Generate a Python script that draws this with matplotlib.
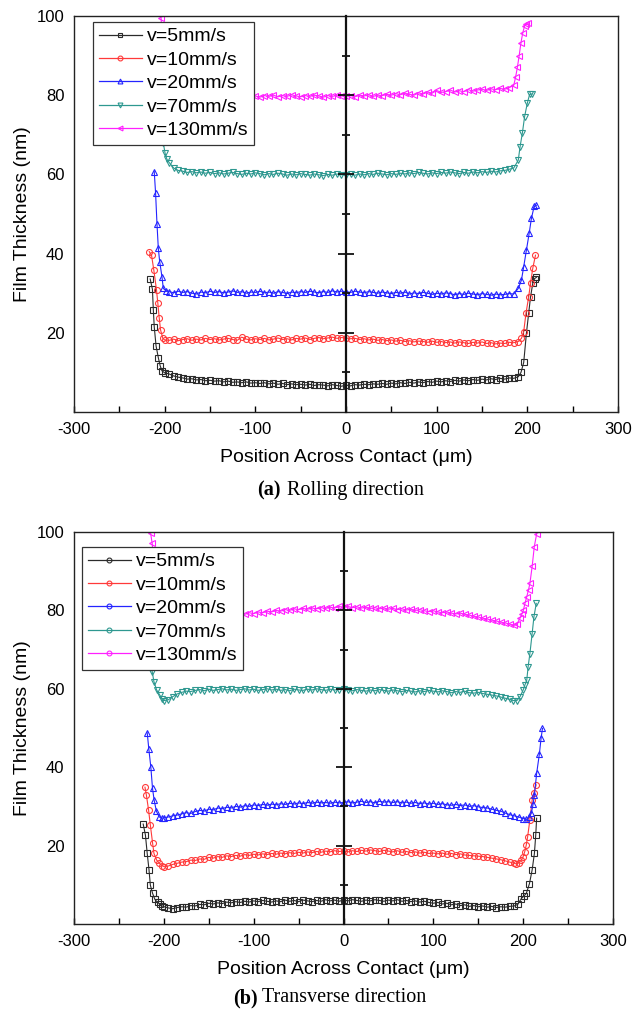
import numpy as np
import matplotlib.pyplot as plt
from matplotlib.lines import Line2D
from matplotlib.ticker import MultipleLocator, FixedLocator

plt.rcParams['font.family'] = ['Liberation Sans', 'DejaVu Sans']
plt.rcParams['axes.unicode_minus'] = False

labels = ["v=5mm/s", "v=10mm/s", "v=20mm/s", "v=70mm/s", "v=130mm/s"]
colors = ["#2b2b2b", "#ff3a3a", "#2424ff", "#2e9890", "#ff20ff"]
markers = ["s", "o", "^", "v", "<"]

# ---------------- (a) Rolling direction ----------------
grid_a = [-195, -190, -185, -180, -175, -170, -165, -160, -155, -150,
          -145, -140, -135, -130, -125, -120, -115, -110, -105, -100,
          -95, -90, -85, -80, -75, -70, -65, -60, -55, -50,
          -45, -40, -35, -30, -25, -20, -15, -10, -5, 0,
          5, 10, 15, 20, 25, 30, 35, 40, 45, 50,
          55, 60, 65, 70, 75, 80, 85, 90, 95, 100,
          105, 110, 115, 120, 125, 130, 135, 140, 145, 150,
          155, 160, 165, 170, 175, 180]

a5_lx = [-216, -213.5, -212.5, -211.5, -209.5, -207, -205, -203, -200]
a5_ly = [33.6, 31.0, 25.8, 21.5, 16.7, 13.7, 11.7, 10.4, 9.9]
a5_mid = [9.6, 9.1, 8.8, 8.6, 8.3, 8.4, 8.1, 8.2, 7.9, 8.0,
          7.8, 7.9, 7.6, 7.8, 7.5, 7.6, 7.4, 7.6, 7.3, 7.4,
          7.2, 7.4, 7.1, 7.3, 7.0, 7.2, 6.9, 7.1, 6.9, 7.0,
          6.8, 7.0, 6.7, 6.9, 6.8, 6.6, 6.9, 6.7, 6.5, 6.8,
          6.6, 6.9, 6.8, 7.0, 6.9, 7.1, 7.0, 7.2, 7.0, 7.3,
          7.1, 7.4, 7.2, 7.5, 7.3, 7.6, 7.4, 7.7, 7.5, 7.8,
          7.6, 7.9, 7.7, 8.0, 7.8, 8.1, 7.9, 8.2, 8.0, 8.3,
          8.1, 8.4, 8.2, 8.5, 8.3, 8.6]
a5_rx = [185, 190, 193, 196, 199, 201.5, 203.5, 206, 208, 210]
a5_ry = [8.5, 8.9, 10.0, 12.5, 19.9, 25.0, 29.0, 32.5, 33.7, 34.0]

a10_lx = [-217, -214.5, -212, -209, -207.5, -206, -204.5, -202, -200]
a10_ly = [40.5, 39.6, 35.9, 30.8, 27.4, 23.7, 20.7, 18.6, 18.2]
a10_mid = [18.1, 18.4, 18.0, 18.3, 18.5, 18.1, 18.4, 18.2, 18.6, 18.3,
           18.5, 18.2, 18.4, 18.6, 18.3, 18.1, 18.9, 18.4, 18.2, 18.5,
           18.3, 18.6, 18.2, 18.4, 18.7, 18.3, 18.5, 18.2, 18.6, 18.4,
           18.7, 18.3, 18.6, 18.8, 18.5, 18.7, 18.9, 18.6, 18.8, 18.7,
           18.5, 18.6, 18.3, 18.5, 18.2, 18.4, 18.1, 18.3, 18.0, 18.2,
           17.9, 18.1, 17.8, 18.0, 17.7, 17.9, 17.8, 17.6, 17.9, 17.6,
           17.8, 17.5, 17.7, 17.4, 17.7, 17.5, 17.3, 17.6, 17.4, 17.7,
           17.3, 17.5, 17.2, 17.4, 17.3, 17.6]
a10_rx = [185, 190, 193.5, 196, 198.5, 201.5, 203.5, 206, 209]
a10_ry = [17.5, 17.8, 18.6, 20.3, 24.9, 29.1, 32.5, 36.3, 39.6]

a20_lx = [-211.5, -210, -208.5, -207, -205.5, -203, -201.5, -198.5]
a20_ly = [60.7, 55.2, 47.6, 41.3, 38.0, 34.2, 31.2, 30.6]
a20_mid = [30.4, 30.1, 30.5, 30.2, 30.4, 30.0, 29.8, 30.3, 30.1, 30.5,
           30.2, 30.4, 30.1, 30.3, 30.6, 30.2, 30.4, 30.0, 30.3, 30.2,
           30.5, 30.1, 30.3, 30.0, 30.4, 30.2, 29.9, 30.3, 30.1, 30.4,
           30.2, 30.5, 30.3, 30.1, 30.4, 30.2, 30.6, 30.3, 30.5, 30.4,
           30.2, 30.5, 30.3, 30.1, 30.4, 30.2, 30.0, 30.3, 30.1, 29.9,
           30.2, 30.0, 30.3, 29.8, 30.1, 29.9, 30.2, 30.0, 29.7, 30.0,
           29.8, 30.1, 29.9, 29.6, 29.9, 29.7, 30.0, 29.8, 29.6, 29.9,
           29.7, 29.5, 29.8, 29.6, 29.7, 29.9]
a20_rx = [185, 190, 193.5, 196, 199, 202, 204.5, 207.5, 210]
a20_ry = [29.8, 31.2, 33.3, 36.7, 40.9, 45.1, 48.9, 51.9, 52.2]

a70_lx = [-205, -203, -201.5, -199.5, -197.5]
a70_ly = [78.0, 72.0, 67.9, 65.3, 63.8]
a70_mid = [63.0, 61.6, 61.0, 60.8, 60.5, 60.7, 60.4, 60.6, 60.3, 60.5,
           60.2, 60.4, 60.1, 60.3, 60.5, 60.2, 60.0, 60.3, 60.1, 60.4,
           60.2, 59.9, 60.2, 60.0, 60.3, 60.1, 59.8, 60.1, 59.9, 60.2,
           60.0, 59.8, 60.1, 59.9, 59.7, 60.0, 59.8, 60.1, 59.9, 59.8,
           60.0, 59.8, 60.1, 59.9, 60.2, 60.0, 60.3, 60.1, 59.9, 60.2,
           60.0, 60.3, 60.1, 60.4, 60.2, 60.5, 60.3, 60.1, 60.4, 60.2,
           60.5, 60.3, 60.6, 60.4, 60.2, 60.5, 60.3, 60.6, 60.4, 60.7,
           60.5, 60.8, 60.6, 60.9, 61.0, 61.3]
a70_rx = [185, 190, 192, 194.5, 197, 200, 202.5, 205]
a70_ry = [61.6, 63.6, 67.0, 70.4, 74.6, 78.0, 80.2, 80.3]

a130_lx = [-204, -203, -201.5, -200, -198]
a130_ly = [99.5, 96.0, 90.0, 85.0, 82.0]
a130_mid = [81.2, 80.6, 80.3, 80.1, 80.4, 79.9, 80.2, 80.0, 79.8, 80.1,
            79.9, 80.2, 79.7, 80.0, 79.8, 80.1, 79.9, 79.6, 80.0, 79.8,
            79.5, 79.9, 79.7, 80.0, 79.6, 79.9, 79.7, 80.1, 79.8, 79.6,
            79.9, 79.7, 80.0, 79.8, 79.5, 79.9, 79.7, 80.0, 79.8, 79.7,
            79.9, 79.6, 80.0, 79.8, 80.1, 79.7, 80.0, 79.9, 80.2, 80.0,
            80.4, 80.1, 80.5, 80.2, 80.0, 80.6, 80.3, 80.8, 80.5, 81.2,
            80.7, 80.9, 81.3, 80.8, 81.1, 80.9, 81.4, 81.0, 81.3, 81.5,
            81.2, 81.6, 81.4, 81.7, 81.5, 81.9]
a130_rx = [185, 187, 189, 191, 193, 195, 197, 199, 200.5]
a130_ry = [82.5, 84.5, 87.0, 90.0, 93.3, 95.8, 97.5, 98.1, 98.3]

# ---------------- (b) Transverse direction ----------------
grid_b = [-195, -190, -185, -180, -175, -170, -165, -160, -155, -150,
          -145, -140, -135, -130, -125, -120, -115, -110, -105, -100,
          -95, -90, -85, -80, -75, -70, -65, -60, -55, -50,
          -45, -40, -35, -30, -25, -20, -15, -10, -5, 0,
          5, 10, 15, 20, 25, 30, 35, 40, 45, 50,
          55, 60, 65, 70, 75, 80, 85, 90, 95, 100,
          105, 110, 115, 120, 125, 130, 135, 140, 145, 150,
          155, 160, 165, 170, 175, 180, 185]

b5_lx = [-223, -220.5, -218.5, -216.5, -215, -212.5, -210, -207, -204.5, -202, -199.5]
b5_ly = [25.5, 22.7, 18.0, 13.8, 9.9, 7.8, 6.3, 5.5, 5.1, 4.6, 4.4]
b5_mid = [4.1, 3.9, 4.2, 4.4, 4.3, 4.7, 4.6, 5.0, 4.9, 5.3,
          5.1, 5.4, 5.2, 5.6, 5.4, 5.7, 5.5, 5.8, 5.6, 5.9,
          5.7, 6.0, 5.8, 5.6, 5.9, 5.7, 6.1, 5.8, 6.0, 5.7,
          6.1, 5.9, 5.7, 6.0, 5.8, 6.2, 5.9, 6.1, 5.8, 6.1,
          5.9, 6.2, 6.0, 5.8, 6.1, 5.9, 6.2, 6.0, 5.8, 6.1,
          5.9, 6.2, 5.8, 6.0, 5.7, 5.9, 5.6, 5.8, 5.5, 5.3,
          5.5, 5.1, 5.3, 4.9, 5.1, 4.7, 4.9, 4.5, 4.7, 4.4,
          4.6, 4.3, 4.5, 4.2, 4.4, 4.3, 4.5]
b5_rx = [190, 194, 198, 201, 203.5, 207, 210, 212.5, 214, 215]
b5_ry = [4.6, 5.0, 6.5, 7.2, 7.8, 10.3, 13.8, 18.0, 22.7, 27.0]

b10_lx = [-221, -219.5, -217, -215, -212.5, -211, -208, -205, -202, -199.5]
b10_ly = [34.9, 33.0, 29.1, 25.2, 20.6, 18.0, 16.3, 15.5, 14.9, 14.6]
b10_mid = [14.8, 15.2, 15.5, 15.8, 15.9, 16.3, 16.2, 16.6, 16.5, 17.0,
           16.8, 17.2, 17.0, 17.4, 17.2, 17.5, 17.3, 17.7, 17.5, 17.8,
           17.6, 17.9, 17.7, 18.0, 17.8, 18.1, 17.9, 18.2, 18.0, 18.3,
           18.1, 18.4, 18.2, 18.5, 18.3, 18.6, 18.4, 18.7, 18.5, 18.6,
           18.4, 18.7, 18.5, 18.8, 18.6, 18.9, 18.7, 18.5, 18.8, 18.6,
           18.4, 18.7, 18.3, 18.5, 18.2, 18.4, 18.1, 18.3, 18.0, 18.1,
           17.9, 18.1, 17.8, 18.0, 17.7, 17.9, 17.6, 17.5, 17.4, 17.3,
           17.2, 17.0, 16.8, 16.6, 16.4, 16.1, 15.8]
b10_rx = [190, 192.5, 195, 198, 200, 201.7, 203.5, 205, 207.5, 210, 212, 214.5]
b10_ry = [15.5, 15.3, 15.6, 16.3, 17.2, 18.4, 20.2, 22.3, 26.6, 31.6, 33.5, 35.5]

b20_lx = [-218.5, -216.7, -214.5, -212.6, -210.8, -208.2, -205, -202.5, -200]
b20_ly = [48.8, 44.6, 40.1, 34.6, 31.6, 28.7, 27.3, 27.0, 27.1]
b20_mid = [27.3, 27.6, 27.8, 28.1, 28.4, 28.2, 28.7, 29.0, 28.8, 29.3,
           29.1, 29.6, 29.4, 29.8, 29.6, 30.0, 29.8, 30.2, 30.0, 30.4,
           30.2, 30.5, 30.3, 30.6, 30.4, 30.7, 30.5, 30.8, 30.6, 30.9,
           30.7, 31.0, 30.8, 31.1, 30.9, 31.0, 30.8, 31.1, 30.9, 31.0,
           31.2, 30.9, 31.1, 31.3, 31.0, 31.2, 30.9, 31.3, 31.1, 31.2,
           31.0, 31.2, 30.9, 31.1, 30.8, 31.0, 30.7, 30.9, 30.6, 30.8,
           30.5, 30.7, 30.4, 30.3, 30.5, 30.2, 30.4, 30.0, 30.2, 29.9,
           29.7, 29.6, 29.3, 29.0, 28.8, 28.3, 27.9]
b20_rx = [190, 195, 200, 203.5, 206.5, 209, 211, 212.5, 215, 218, 220, 221.5]
b20_ry = [27.6, 27.3, 26.9, 26.7, 27.2, 28.2, 30.5, 32.9, 38.4, 43.3, 47.5, 49.9]

b70_lx = [-216, -213, -211, -208, -204.5, -202, -199.5]
b70_ly = [68.0, 64.4, 61.8, 59.7, 58.4, 57.5, 57.0]
b70_mid = [57.2, 58.0, 58.7, 59.1, 59.4, 59.3, 59.6, 59.8, 59.5, 59.9,
           59.6, 59.8, 60.0, 59.7, 59.9, 59.6, 59.8, 60.0, 59.7, 59.9,
           59.6, 59.8, 60.0, 59.7, 59.9, 59.6, 59.8, 59.5, 59.9, 59.7,
           59.6, 59.9, 59.7, 60.0, 59.8, 59.6, 59.9, 59.7, 59.8, 59.9,
           59.7, 59.5, 59.8, 59.6, 59.4, 59.7, 59.5, 59.8, 59.6, 59.4,
           59.7, 59.5, 59.3, 59.6, 59.4, 59.2, 59.5, 59.3, 59.6, 59.4,
           59.2, 59.5, 59.3, 59.0, 59.3, 59.1, 59.4, 59.0, 58.9, 59.1,
           58.8, 58.6, 58.4, 58.2, 57.9, 57.6, 57.3]
b70_rx = [189, 193, 196.5, 200, 202, 204, 205.5, 207.5, 210, 212, 214.6]
b70_ry = [57.0, 57.0, 58.0, 59.7, 61.0, 62.2, 65.6, 69.0, 74.1, 78.4, 81.8]

b130_lx = [-214.7, -213, -211, -208, -204, -200]
b130_ly = [99.7, 97.1, 92.0, 86.0, 81.5, 79.5]
b130_mid = [79.2, 79.0, 78.8, 79.1, 78.9, 78.7, 79.0, 78.8, 79.1, 78.9,
            78.7, 79.0, 78.8, 79.1, 78.9, 78.8, 79.2, 79.0, 79.4, 79.2,
            79.6, 79.4, 79.8, 79.6, 80.0, 79.8, 80.2, 80.0, 80.4, 80.2,
            80.5, 80.3, 80.6, 80.4, 80.7, 80.5, 80.8, 80.6, 81.0, 80.8,
            81.0, 80.7, 80.9, 80.6, 80.8, 80.5, 80.7, 80.4, 80.6, 80.3,
            80.5, 80.2, 80.4, 80.1, 80.3, 80.0, 80.2, 79.9, 79.7, 79.9,
            79.6, 79.4, 79.6, 79.3, 79.1, 79.3, 79.0, 78.8, 78.5, 78.3,
            78.0, 77.8, 77.5, 77.3, 77.0, 76.8, 76.5]
b130_rx = [190, 193, 196.5, 198.5, 200.3, 202, 204, 206, 207.5, 210, 212.4, 215]
b130_ry = [76.2, 76.5, 78.0, 79.0, 80.1, 81.8, 83.5, 85.3, 86.9, 91.2, 96.3, 99.5]

series_a = [(a5_lx, a5_ly, a5_mid, a5_rx, a5_ry),
            (a10_lx, a10_ly, a10_mid, a10_rx, a10_ry),
            (a20_lx, a20_ly, a20_mid, a20_rx, a20_ry),
            (a70_lx, a70_ly, a70_mid, a70_rx, a70_ry),
            (a130_lx, a130_ly, a130_mid, a130_rx, a130_ry)]
series_b = [(b5_lx, b5_ly, b5_mid, b5_rx, b5_ry),
            (b10_lx, b10_ly, b10_mid, b10_rx, b10_ry),
            (b20_lx, b20_ly, b20_mid, b20_rx, b20_ry),
            (b70_lx, b70_ly, b70_mid, b70_rx, b70_ry),
            (b130_lx, b130_ly, b130_mid, b130_rx, b130_ry)]


def draw_panel(ax, grid, series, leg_markers, leg_anchor):
    for i, (lx, ly, mid, rx, ry) in enumerate(series):
        x = np.array(lx + grid + rx)
        y = np.array(ly + mid + ry)
        ax.plot(x, y, color=colors[i], marker=markers[i], ms=4.3, mfc='none',
                mew=0.8, lw=0.8)
    ax.set_xlim(-300, 300)
    ax.set_ylim(0, 100)
    ax.xaxis.set_major_locator(MultipleLocator(100))
    ax.xaxis.set_minor_locator(MultipleLocator(50))
    ax.set_yticks([20, 40, 60, 80, 100])
    ax.tick_params(axis='x', which='both', direction='in', length=4,
                   width=1, labelsize=12, pad=7)
    ax.tick_params(axis='y', length=0, labelsize=12, pad=7)
    for s in ax.spines.values():
        s.set_linewidth(1.0)
        s.set_color('#222222')
    ax.set_xlabel("Position Across Contact (\u03bcm)", fontsize=14, labelpad=9)
    ax.set_ylabel("Film Thickness (nm)", fontsize=14, labelpad=4)

    handles = [Line2D([], [], color=colors[i], marker=leg_markers[i], ms=3.5,
                      mfc='none', mew=0.8, lw=0.9) for i in range(5)]
    leg = ax.legend(handles, labels, loc='upper left', bbox_to_anchor=leg_anchor,
                    borderaxespad=0, fancybox=False, edgecolor='#333333',
                    framealpha=1, fontsize=14, handlelength=2.2,
                    handletextpad=0.25, labelspacing=0.3, borderpad=0.3)
    leg.get_frame().set_linewidth(0.9)

    # vertical axis through x = 0 with crossing ticks
    zx = ax.twinx()
    zx.set_ylim(0, 100)
    for s in ['left', 'top', 'bottom']:
        zx.spines[s].set_visible(False)
    zx.spines['right'].set_position(('data', 0))
    zx.spines['right'].set_linewidth(1.6)
    zx.spines['right'].set_color('#111111')
    zx.yaxis.set_major_locator(FixedLocator([20, 40, 60, 80]))
    zx.yaxis.set_minor_locator(FixedLocator([10, 30, 50, 70, 90]))
    zx.tick_params(axis='y', which='major', direction='inout', length=11,
                   width=1.3, labelright=False, colors='#111111')
    zx.tick_params(axis='y', which='minor', direction='inout', length=6,
                   width=1.3, colors='#111111')


fig = plt.figure(figsize=(6.33, 10.10), dpi=100)
ax_a = fig.add_axes([74 / 633, 1 - 412 / 1010, 544 / 633, 396 / 1010])
ax_b = fig.add_axes([74 / 633, 1 - 924 / 1010, 539 / 633, 392 / 1010])

draw_panel(ax_a, grid_a, series_a, markers, (0.035, 0.985))
draw_panel(ax_b, grid_b, series_b, ["o"] * 5, (0.015, 0.962))

serif = ['Liberation Serif', 'DejaVu Serif']
fig.text(281 / 633, 1 - 490 / 1010, "(a)", family=serif, fontweight='bold',
         fontsize=14.5, ha='right', va='center')
fig.text(287 / 633, 1 - 490 / 1010, "Rolling direction", family=serif,
         fontsize=14.5, ha='left', va='center')
fig.text(258 / 633, 1 - 998 / 1010, "(b)", family=serif, fontweight='bold',
         fontsize=14.5, ha='right', va='center')
fig.text(262 / 633, 1 - 998 / 1010, "Transverse direction", family=serif,
         fontsize=14.5, ha='left', va='center')

fig.savefig("out.png", dpi=100)
